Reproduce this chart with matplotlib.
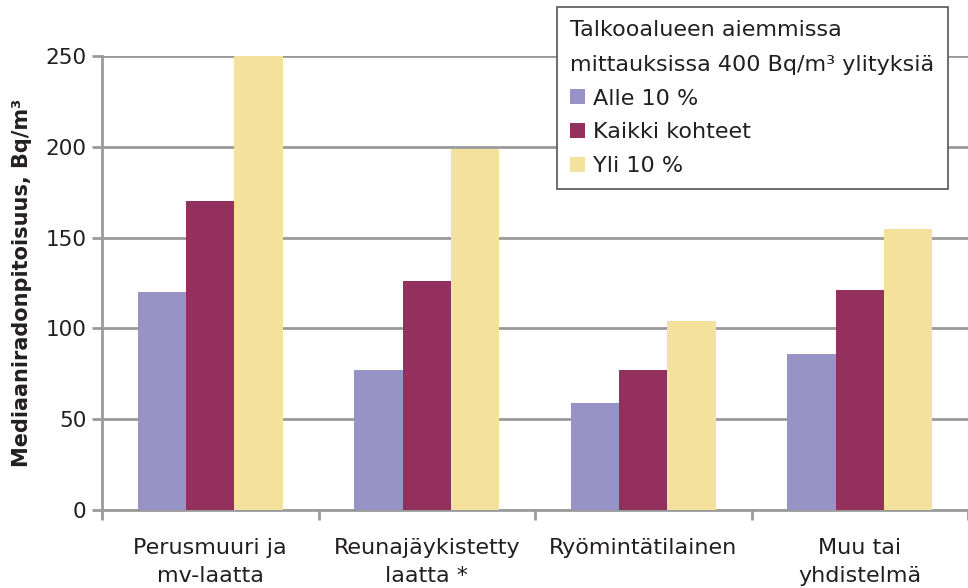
import numpy as np
import matplotlib
matplotlib.use("Agg")
import matplotlib.pyplot as plt

categories = ["Perusmuuri ja\nmv-laatta", "Reunajäykistetty\nlaatta *", "Ryömintätilainen", "Muu tai\nyhdistelmä"]
series_names = ["Alle 10 %", "Kaikki kohteet", "Yli 10 %"]
alle = [120, 77, 59, 86]
kaikki = [170, 126, 77, 121]
yli = [251, 199, 104, 155]
colors = ["#9793c6", "#93305e", "#f4e19c"]

plt.rcParams['font.family'] = ['DejaVu Sans']
txt = "#231f20"
grey = "#9a9a9a"

fig = plt.figure(figsize=(9.68, 5.88), dpi=100)
ax = fig.add_axes([102/968, 1-510/588, 1-102/968, (510-56)/588])

x = np.arange(len(categories))
w = 0.224
for i, (vals, name) in enumerate(zip([alle, kaikki, yli], series_names)):
    ax.bar(x + (i - 1)*w, vals, w, color=colors[i], label=name, zorder=3)

ax.set_xlim(-0.5, len(categories) - 0.5)
ax.set_ylim(0, 250)
ax.set_yticks(range(0, 251, 50))
ax.yaxis.grid(True, color=grey, linewidth=2, zorder=0)
ax.set_axisbelow(True)

# ticks between groups, labels at group centres
ax.set_xticks(np.arange(-0.5, len(categories), 1))
ax.set_xticklabels([])
ax.set_xticks(x, minor=True)
ax.set_xticklabels(categories, minor=True, fontsize=16, color=txt, linespacing=1.5)
ax.tick_params(axis='x', which='minor', length=0, pad=20)
ax.tick_params(axis='x', which='major', length=7, width=2, color=grey, direction='out')
ax.tick_params(axis='y', length=7, width=2, color=grey, labelsize=15.5, labelcolor=txt, pad=4)

for s in ["top", "right"]:
    ax.spines[s].set_visible(False)
for s in ["left", "bottom"]:
    ax.spines[s].set_color(grey)
    ax.spines[s].set_linewidth(2)

ax.set_ylabel("Mediaaniradonpitoisuus, Bq/m³", fontsize=15, fontweight='bold', color=txt, labelpad=10)

leg = ax.legend(title="Talkooalueen aiemmissa\nmittauksissa 400 Bq/m³ ylityksiä",
                loc='upper left', bbox_to_anchor=(557/968, 1-7/588),
                bbox_transform=fig.transFigure, borderaxespad=0,
                fontsize=16, title_fontsize=16, alignment='left',
                handlelength=0.65, handleheight=0.65, handletextpad=0.35,
                labelspacing=0.62, borderpad=0.6, fancybox=False,
                framealpha=1, edgecolor="#555555")
leg.get_frame().set_linewidth(1.2)
leg.get_title().set_color(txt)
leg.get_title().set_linespacing(1.9)
for t in leg.get_texts():
    t.set_color(txt)

fig.savefig("out.png", dpi=100)
